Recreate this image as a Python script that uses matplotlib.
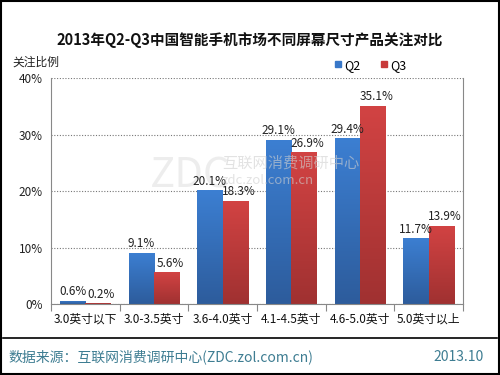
import matplotlib.pyplot as plt
import numpy as np
from matplotlib.patches import Rectangle
from matplotlib.lines import Line2D
from matplotlib.colors import LinearSegmentedColormap

plt.rcParams['font.family'] = ['Noto Sans CJK SC', 'DejaVu Sans']

# 数据
categories = ['3.0英寸以下', '3.0-3.5英寸', '3.6-4.0英寸', '4.1-4.5英寸', '4.6-5.0英寸', '5.0英寸以上']
q2_values = [0.6, 9.1, 20.1, 29.1, 29.4, 11.7]
q3_values = [0.2, 5.6, 18.3, 26.9, 35.1, 13.9]
y_ticks = [0, 10, 20, 30, 40]

fig = plt.figure(figsize=(5, 3.75), dpi=100, facecolor='white')
ax = fig.add_axes([0.102, 0.189, 0.824, 0.603])

x = np.arange(len(categories))
w = 0.37


def gradient_bars(bars, top_color, bottom_color):
    # 柱子竖直渐变
    grad = np.linspace(0, 1, 100).reshape(-1, 1)
    cmap = LinearSegmentedColormap.from_list('g', [bottom_color, top_color])
    for b in bars:
        bx, by = b.get_x(), b.get_y()
        bw, bh = b.get_width(), b.get_height()
        b.set_facecolor('none')
        b.set_edgecolor('none')
        im = ax.imshow(grad, extent=[bx, bx + bw, by, by + bh], origin='lower',
                       aspect='auto', cmap=cmap, zorder=2)
        im.set_clip_path(b)


bars2 = ax.bar(x - w / 2, q2_values, w, color='#3877c8', zorder=2)
bars3 = ax.bar(x + w / 2, q3_values, w, color='#c83a3a', zorder=2)
gradient_bars(bars2, '#3c7fd2', '#2d5c9c')
gradient_bars(bars3, '#d24343', '#a03131')

for i in range(len(categories)):
    ax.text(x[i] - w / 2, q2_values[i] + 0.4, '%.1f%%' % q2_values[i],
            ha='center', va='bottom', fontsize=8.5, color='#222222', zorder=4)
    ax.text(x[i] + w / 2 + 0.05, q3_values[i] + 0.4, '%.1f%%' % q3_values[i],
            ha='center', va='bottom', fontsize=8.5, color='#222222', zorder=4)

ax.set_xlim(-0.5, len(categories) - 0.5)
ax.set_ylim(0, 40)
ax.set_yticks(y_ticks)
ax.set_yticklabels(['%d%%' % v for v in y_ticks], fontsize=8.5, color='#222222')
ax.set_xticks(x)
ax.set_xticklabels(categories, fontsize=8.5, color='#111111')
ax.tick_params(axis='x', length=0, pad=6)
ax.tick_params(axis='y', length=0, pad=6)
ax.set_xticks(np.arange(-0.5, len(categories), 1), minor=True)
ax.tick_params(axis='x', which='minor', length=5, color='#888888', width=0.8)

ax.grid(axis='y', linestyle=(0, (1, 1.5)), color='#777777', linewidth=0.8, zorder=0)
for s in ['left', 'bottom', 'right']:
    ax.spines[s].set_color('#888888')
    ax.spines[s].set_linewidth(0.8)
ax.spines['top'].set_visible(False)

# 水印
ax.text(0.30, 0.53, 'ZDC', transform=fig.transFigure, fontsize=30, color='#d8d8d8',
        alpha=0.45, ha='left', va='center', zorder=3)
ax.text(0.444, 0.565, '互联网消费调研中心', transform=fig.transFigure, fontsize=11,
        color='#d0d0d0', alpha=0.6, ha='left', va='center', zorder=3)
ax.text(0.444, 0.52, 'zdc.zol.com.cn', transform=fig.transFigure, fontsize=9.5,
        color='#d0d0d0', alpha=0.6, ha='left', va='center', zorder=3)

# 标题
fig.text(0.5, 0.893, '2013年Q2-Q3中国智能手机市场不同屏幕尺寸产品关注对比',
         ha='center', va='center', fontsize=10.5, fontweight='bold', color='#111111')
fig.text(0.024, 0.835, '关注比例', ha='left', va='center', fontsize=8.5, color='#222222')

# 图例
handles = [Line2D([], [], marker='s', linestyle='none', color='#3877c8', markersize=5),
           Line2D([], [], marker='s', linestyle='none', color='#c83a3a', markersize=5)]
fig.legend(handles, ['Q2', 'Q3'], loc='center', bbox_to_anchor=(0.74, 0.826), ncol=2,
           frameon=False, fontsize=9, handletextpad=0.1, columnspacing=1.5,
           handlelength=0.8)

# 底部
fig.add_artist(Line2D([0.006, 0.994], [0.099, 0.099], color='black', linewidth=1.2))
fig.text(0.016, 0.048, '数据来源：互联网消费调研中心(ZDC.zol.com.cn)', ha='left', va='center',
         fontsize=10, color='#3e7d92')
fig.text(0.968, 0.048, '2013.10', ha='right', va='center', fontsize=10, color='#3e7d92')

fig.add_artist(Rectangle((0.002, 0.003), 0.996, 0.994, transform=fig.transFigure,
                         fill=False, edgecolor='black', linewidth=1.5))

plt.savefig('out.png', dpi=100)
